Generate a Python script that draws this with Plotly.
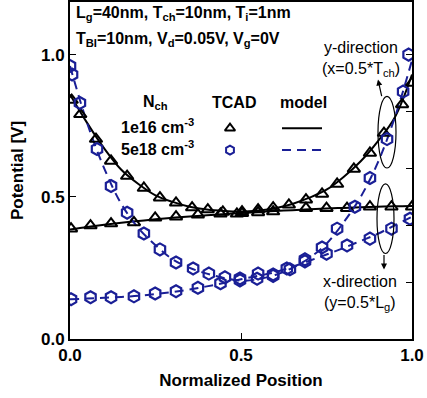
import plotly.graph_objects as go

# ---------------- data ----------------
# TCAD, Nch = 1e16, y-direction (x = 0.5*Tch)
tri_y_x = [0.005, 0.03, 0.076, 0.12, 0.167, 0.216, 0.263, 0.31, 0.357, 0.403, 0.447,
           0.503, 0.55, 0.594, 0.64, 0.69, 0.737, 0.781, 0.83, 0.877, 0.918, 0.971, 1.0]
tri_y_v = [0.84, 0.79, 0.703, 0.626, 0.573, 0.531, 0.497, 0.479, 0.462, 0.455, 0.447,
           0.448, 0.455, 0.462, 0.472, 0.49, 0.51, 0.545, 0.598, 0.654, 0.724, 0.825, 0.9]
# TCAD, Nch = 1e16, x-direction (y = 0.5*Lg)
tri_x_x = [0.003, 0.06, 0.12, 0.187, 0.249, 0.31, 0.374, 0.44, 0.488, 0.503, 0.55,
           0.594, 0.69, 0.75, 0.81, 0.877, 0.94, 1.0]
tri_x_v = [0.388, 0.399, 0.406, 0.41, 0.426, 0.43, 0.437, 0.44, 0.44, 0.442, 0.445,
           0.448, 0.46, 0.46, 0.46, 0.465, 0.465, 0.465]
# TCAD, Nch = 5e18, y-direction
hex_y_x = [0.0, 0.006, 0.029, 0.079, 0.12, 0.167, 0.216, 0.263, 0.31, 0.36, 0.406, 0.453,
           0.497, 0.547, 0.594, 0.643, 0.687, 0.737, 0.781, 0.833, 0.877, 0.927, 0.974, 0.99]
hex_y_v = [0.96, 0.93, 0.83, 0.668, 0.538, 0.444, 0.371, 0.315, 0.269, 0.248, 0.23, 0.217,
           0.206, 0.212, 0.222, 0.245, 0.28, 0.322, 0.388, 0.465, 0.566, 0.703, 0.87, 1.0]
# TCAD, Nch = 5e18, x-direction
hex_x_x = [0.003, 0.06, 0.12, 0.187, 0.249, 0.31, 0.374, 0.44, 0.497, 0.55, 0.594,
           0.634, 0.687, 0.75, 0.81, 0.877, 0.94, 0.994]
hex_x_v = [0.14, 0.147, 0.147, 0.15, 0.16, 0.168, 0.18, 0.196, 0.213, 0.23, 0.227,
           0.248, 0.273, 0.3, 0.329, 0.353, 0.388, 0.423]

# model curves
mod_x = [0.0, 0.05, 0.1, 0.15, 0.2, 0.25, 0.3, 0.35, 0.4, 0.45, 0.5,
         0.55, 0.6, 0.65, 0.7, 0.75, 0.8, 0.85, 0.9, 0.95, 1.0]
mod_1e16_y = [0.86, 0.76, 0.67, 0.595, 0.545, 0.505, 0.482, 0.465, 0.455, 0.45, 0.448,
              0.452, 0.46, 0.475, 0.497, 0.525, 0.57, 0.625, 0.695, 0.78, 0.93]
mod_1e16_x = [0.385, 0.394, 0.402, 0.409, 0.415, 0.421, 0.426, 0.431, 0.435, 0.439, 0.443,
              0.447, 0.45, 0.453, 0.456, 0.459, 0.461, 0.463, 0.465, 0.467, 0.468]
mod_5e18_y = [0.96, 0.76, 0.6, 0.475, 0.39, 0.33, 0.28, 0.25, 0.23, 0.215, 0.205,
              0.21, 0.225, 0.25, 0.285, 0.335, 0.41, 0.5, 0.62, 0.78, 0.98]
mod_5e18_x = [0.14, 0.142, 0.145, 0.148, 0.152, 0.158, 0.165, 0.174, 0.185, 0.197, 0.21,
              0.222, 0.235, 0.254, 0.275, 0.297, 0.32, 0.345, 0.37, 0.4, 0.43]

x_ticks = [0.0, 0.5, 1.0]
x_tick_labels = ["0.0", "0.5", "1.0"]
y_ticks = [0.0, 0.5, 1.0]
y_tick_labels = ["0.0", "0.5", "1.0"]
y_minor_ticks = [0.2, 0.4, 0.6, 0.8, 1.0]

BLACK = "#000000"
BLUE = "#1a1f96"
FONT = "Liberation Sans, Arial, sans-serif"

# ---------------- layout geometry ----------------
W, H = 427, 398
L, R, T, B = 70, 15, 0, 59
YMAX = 1.185


def px2x(px):
    return (px - L) / (W - L - R)


def py2y(py):
    return (H - B - py) / (H - B - T) * YMAX


fig = go.Figure()

tri_marker = dict(symbol="triangle-up-open", size=11, color=BLACK, line=dict(width=2, color=BLACK))
hex_marker = dict(symbol="hexagon-open", size=12, color=BLUE, line=dict(width=2.2, color=BLUE))

# model lines
fig.add_trace(go.Scatter(x=mod_x, y=mod_1e16_y, mode="lines",
                         line=dict(color=BLACK, width=2, shape="spline"), showlegend=False))
fig.add_trace(go.Scatter(x=mod_x, y=mod_1e16_x, mode="lines",
                         line=dict(color=BLACK, width=2, shape="spline"), showlegend=False))
fig.add_trace(go.Scatter(x=mod_x, y=mod_5e18_y, mode="lines",
                         line=dict(color=BLUE, width=2, dash="9px,6px", shape="spline"), showlegend=False))
fig.add_trace(go.Scatter(x=mod_x, y=mod_5e18_x, mode="lines",
                         line=dict(color=BLUE, width=2, dash="9px,6px", shape="spline"), showlegend=False))

# TCAD markers
fig.add_trace(go.Scatter(x=tri_y_x, y=tri_y_v, mode="markers", marker=tri_marker, showlegend=False))
fig.add_trace(go.Scatter(x=tri_x_x, y=tri_x_v, mode="markers", marker=tri_marker, showlegend=False))
fig.add_trace(go.Scatter(x=hex_y_x, y=hex_y_v, mode="markers", marker=hex_marker, showlegend=False))
fig.add_trace(go.Scatter(x=hex_x_x, y=hex_x_v, mode="markers", marker=hex_marker, showlegend=False))

# manual legend samples
fig.add_trace(go.Scatter(x=[px2x(230)], y=[py2y(127)], mode="markers",
                         marker=dict(symbol="triangle-up-open", size=9, color=BLACK,
                                     line=dict(width=2, color=BLACK)), showlegend=False))
fig.add_trace(go.Scatter(x=[px2x(230)], y=[py2y(149)], mode="markers",
                         marker=dict(symbol="hexagon-open", size=9, color=BLUE,
                                     line=dict(width=2, color=BLUE)), showlegend=False))
fig.add_trace(go.Scatter(x=[px2x(282), px2x(322)], y=[py2y(127)] * 2, mode="lines",
                         line=dict(color=BLACK, width=2), showlegend=False))
fig.add_trace(go.Scatter(x=[px2x(282), px2x(322)], y=[py2y(149)] * 2, mode="lines",
                         line=dict(color=BLUE, width=2, dash="9px,6px"), showlegend=False))

# invisible trace to carry the right-hand axis ticks
fig.add_trace(go.Scatter(x=[0], y=[0], yaxis="y2", mode="markers",
                         marker=dict(opacity=0), showlegend=False, hoverinfo="skip"))

ann = []


def text(px, py, s, size=16, bold=True, xanchor="left", yanchor="middle"):
    ann.append(dict(x=px2x(px), y=py2y(py), xref="x", yref="y", text=(f"<b>{s}</b>" if bold else s),
                    showarrow=False, xanchor=xanchor, yanchor=yanchor,
                    font=dict(family=FONT, size=size, color=BLACK)))


text(74, 12, "L<sub>g</sub>=40nm, T<sub>ch</sub>=10nm, T<sub>i</sub>=1nm")
text(74, 38, "T<sub>BI</sub>=10nm, V<sub>d</sub>=0.05V, V<sub>g</sub>=0V")
text(155, 101, "N<sub>ch</sub>", xanchor="center")
text(234, 101, "TCAD", xanchor="center")
text(303, 101, "model", xanchor="center")
text(157, 125, "1e16 cm<sup>-3</sup>", xanchor="center")
text(157, 147, "5e18 cm<sup>-3</sup>", xanchor="center")
text(361, 46, "y-direction", bold=False, xanchor="center")
text(361, 68, "(x=0.5*T<sub>ch</sub>)", bold=False, xanchor="center")
text(360, 281, "x-direction", bold=False, xanchor="center")
text(360, 303, "(y=0.5*L<sub>g</sub>)", bold=False, xanchor="center")

# arrows
ann.append(dict(x=px2x(378), y=py2y(78), xref="x", yref="y", ax=4, ay=18, text="",
                showarrow=True, arrowhead=2, arrowsize=1, arrowwidth=1.2, arrowcolor=BLACK))
ann.append(dict(x=px2x(384), y=py2y(269), xref="x", yref="y", ax=0, ay=-16, text="",
                showarrow=True, arrowhead=2, arrowsize=1, arrowwidth=1.2, arrowcolor=BLACK))

shapes = [
    dict(type="circle", xref="x", yref="y", x0=px2x(378), x1=px2x(396), y0=py2y(167), y1=py2y(95),
         line=dict(color=BLACK, width=1.2)),
    dict(type="circle", xref="x", yref="y", x0=px2x(377), x1=px2x(394), y0=py2y(253), y1=py2y(183),
         line=dict(color=BLACK, width=1.2)),
]

fig.update_layout(
    width=W, height=H,
    margin=dict(l=L, r=R, t=T, b=B, pad=0),
    paper_bgcolor="white", plot_bgcolor="white",
    font=dict(family=FONT, size=16, color=BLACK),
    showlegend=False,
    annotations=ann,
    shapes=shapes,
    xaxis=dict(range=[0, 1], tickvals=x_ticks, ticktext=[f"<b>{t}</b>" for t in x_tick_labels],
               ticks="inside", ticklen=6, tickwidth=1, tickcolor=BLACK,
               showline=True, linecolor=BLACK, linewidth=2, mirror=True, showgrid=False, zeroline=False,
               tickfont=dict(family=FONT, size=17, color=BLACK),
               title=dict(text="<b>Normalized Position</b>", font=dict(family=FONT, size=17), standoff=10)),
    yaxis=dict(range=[0, YMAX], tickvals=y_ticks, ticktext=[f"<b>{t}</b>" for t in y_tick_labels],
               ticks="inside", ticklen=6, tickwidth=1, tickcolor=BLACK,
               showline=True, linecolor=BLACK, linewidth=2, mirror=True, showgrid=False, zeroline=False,
               tickfont=dict(family=FONT, size=17, color=BLACK),
               title=dict(text="<b>Potential [V]</b>", font=dict(family=FONT, size=17), standoff=13)),
    yaxis2=dict(range=[0, YMAX], overlaying="y", side="right", tickvals=y_minor_ticks,
                showticklabels=False, ticks="inside", ticklen=6, tickcolor=BLACK,
                showgrid=False, zeroline=False, showline=False),
)

fig.write_html("out.html")
